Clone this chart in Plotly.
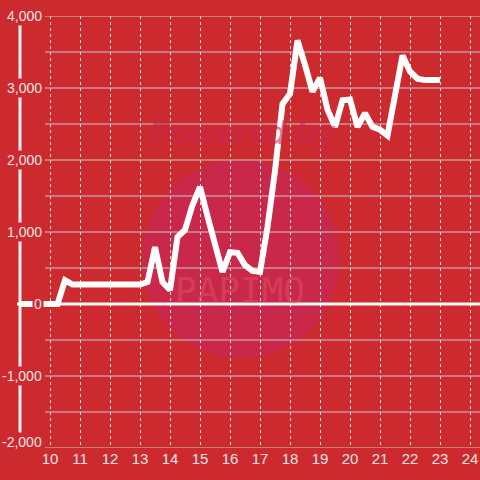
import plotly.graph_objects as go

# quarter-hour samples
hours = [9.0, 10.25, 10.5, 10.75, 11.0, 11.5, 12.0, 12.5, 13.0, 13.25, 13.5, 13.75,
         14.0, 14.25, 14.5, 14.75, 15.0, 15.25, 15.5, 15.75, 16.0, 16.25, 16.5,
         16.75, 17.0, 17.25, 17.5, 17.75, 18.0, 18.25, 18.5, 18.75, 19.0, 19.25,
         19.5, 19.75, 20.0, 20.25, 20.5, 20.75, 21.0, 21.25, 21.5, 21.75, 22.0,
         22.25, 22.5, 23.0]
values = [0, 0, 330, 270, 270, 270, 270, 270, 270, 305, 790, 305,
          195, 930, 1030, 1375, 1625, 1220, 850, 445, 720, 710, 540,
          460, 445, 1070, 1850, 2780, 2920, 3660, 3320, 2950, 3140, 2700,
          2460, 2830, 2840, 2460, 2650, 2460, 2420, 2340, 2900, 3450, 3230,
          3130, 3110, 3110]

y_ticks = [4000, 3000, 2000, 1000, 0, -1000, -2000]
y_labels = ["4,000", "3,000", "2,000", "1,000", "0", "-1,000", "-2,000"]
x_ticks = list(range(10, 25))

BG = "#cd2a2f"
TXT = "#f3e4e4"
GRID = "#c9c9c9"

fig = go.Figure(go.Scatter(x=hours, y=values, mode="lines",
	line=dict(color="white", width=6), hoverinfo="skip"))

shapes = []
# watermark circle
shapes.append(dict(type="circle", xref="paper", yref="paper", layer="below",
	x0=(142 - 20) / 460, x1=(340 - 20) / 460, y0=(448 - 358) / 432, y1=(448 - 160) / 432,
	fillcolor="#c9284a", line_width=0))
# horizontal grid every 500
for v in range(-2000, 4001, 500):
	shapes.append(dict(type="line", xref="x", yref="y", layer="below",
		x0=9.833, x1=24.333, y0=v, y1=v, line=dict(color=GRID, width=1)))
# left vertical bar
shapes.append(dict(type="line", xref="paper", yref="y", x0=0, x1=0, y0=-2000, y1=4000,
	line=dict(color="#f2f2f2", width=3)))
# zero line
shapes.append(dict(type="line", xref="paper", yref="y", x0=-3 / 460, x1=1, y0=0, y1=0,
	line=dict(color="white", width=3)))

annotations = []
for v, lab in zip(y_ticks, y_labels):
	annotations.append(dict(x=24 / 460, y=v, xref="paper", yref="y", text=lab,
		xanchor="right", yanchor="middle", showarrow=False, bgcolor=BG,
		borderpad=1, yshift=6 if v == -2000 else 0,
		font=dict(size=14, color=TXT)))
# watermark text
annotations.append(dict(x=(242 - 20) / 460, y=(448 - 132) / 432, xref="paper", yref="paper",
	text="<b><i>Powered by</i></b>", showarrow=False, yanchor="middle",
	font=dict(size=33, color="rgba(200,38,80,0.6)", family="Liberation Sans")))
annotations.append(dict(x=(240 - 20) / 460, y=(448 - 290) / 432, xref="paper", yref="paper",
	text="PAPIMO", showarrow=False, yanchor="middle",
	font=dict(size=36, color="rgba(225,90,105,0.45)", family="DejaVu Sans Mono")))

fig.update_layout(width=480, height=480, paper_bgcolor=BG, plot_bgcolor=BG,
	margin=dict(l=20, r=0, t=16, b=32, autoexpand=False), showlegend=False,
	font=dict(family="Liberation Sans, Arial", size=14, color=TXT),
	shapes=shapes, annotations=annotations)
fig.update_xaxes(range=[9, 24.333], tickvals=x_ticks, showgrid=True, griddash="dot",
	gridcolor="#e6e6e6", gridwidth=1, zeroline=False, showline=False, ticks="",
	automargin=False, tickfont=dict(size=15, color=TXT))
fig.update_yaxes(range=[-2000, 4000], showticklabels=False, showgrid=False,
	zeroline=False, showline=False, automargin=False)

fig.write_html("out.html", config={"displayModeBar": False},
	post_script="document.body.style.margin='0';")
